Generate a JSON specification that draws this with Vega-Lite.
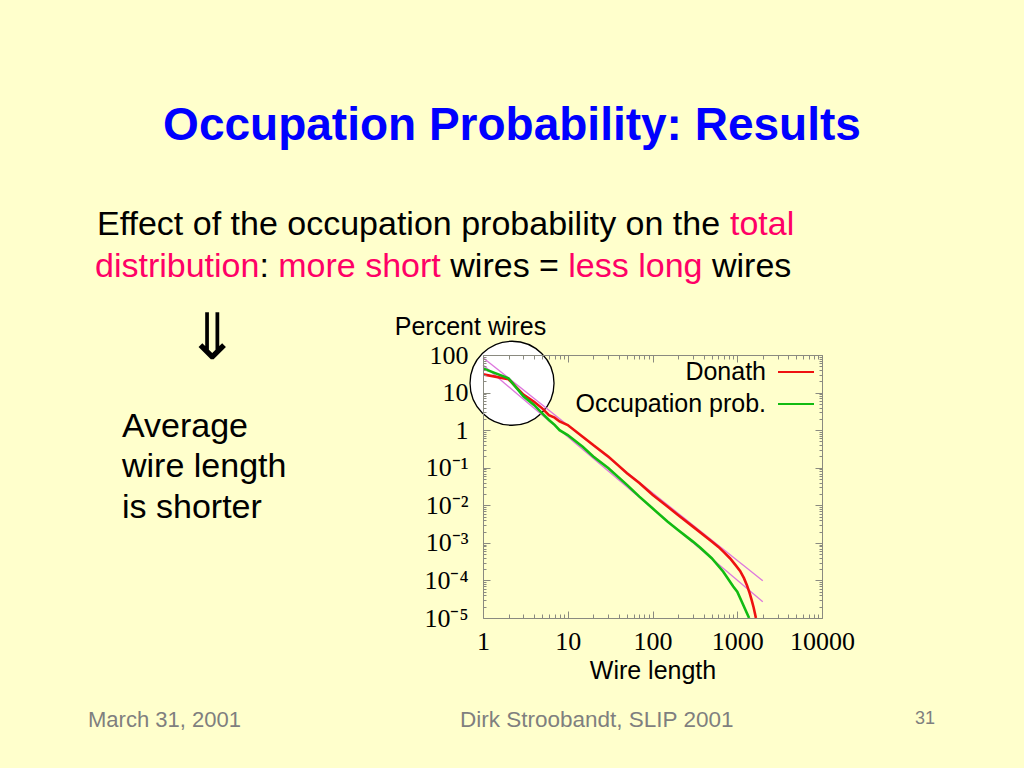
{
  "$schema": "https://vega.github.io/schema/vega-lite/v6.json",
  "width": 339,
  "height": 263,
  "autosize": "none",
  "padding": {"left": 483, "top": 355, "right": 202, "bottom": 150},
  "background": "#ffffcc",
  "config": {"view": {"stroke": null}, "font": "Liberation Sans"},
  "datasets": {
    "curves": [
      {"model": "Donath", "length": 1, "percent": 30.6},
      {"model": "Donath", "length": 2, "percent": 22.6},
      {"model": "Donath", "length": 3, "percent": 8.8},
      {"model": "Donath", "length": 4, "percent": 5.7},
      {"model": "Donath", "length": 5, "percent": 3.8},
      {"model": "Donath", "length": 6, "percent": 2.5},
      {"model": "Donath", "length": 7, "percent": 2.15},
      {"model": "Donath", "length": 8, "percent": 1.7},
      {"model": "Donath", "length": 10, "percent": 1.37},
      {"model": "Donath", "length": 15, "percent": 0.67},
      {"model": "Donath", "length": 20, "percent": 0.4},
      {"model": "Donath", "length": 30, "percent": 0.2},
      {"model": "Donath", "length": 50, "percent": 0.071},
      {"model": "Donath", "length": 70, "percent": 0.039},
      {"model": "Donath", "length": 100, "percent": 0.019},
      {"model": "Donath", "length": 150, "percent": 0.0093},
      {"model": "Donath", "length": 200, "percent": 0.0055},
      {"model": "Donath", "length": 300, "percent": 0.0027},
      {"model": "Donath", "length": 500, "percent": 0.00108},
      {"model": "Donath", "length": 600, "percent": 0.00078},
      {"model": "Donath", "length": 700, "percent": 0.00056},
      {"model": "Donath", "length": 820, "percent": 0.00039},
      {"model": "Donath", "length": 950, "percent": 0.00026},
      {"model": "Donath", "length": 1080, "percent": 0.00018},
      {"model": "Donath", "length": 1200, "percent": 0.000115},
      {"model": "Donath", "length": 1300, "percent": 0.000075},
      {"model": "Donath", "length": 1400, "percent": 0.000046},
      {"model": "Donath", "length": 1480, "percent": 0.00003},
      {"model": "Donath", "length": 1560, "percent": 0.000019},
      {"model": "Donath", "length": 1620, "percent": 0.000013},
      {"model": "Donath", "length": 1660, "percent": 0.00001},
      {"model": "Occupation prob.", "length": 1, "percent": 44},
      {"model": "Occupation prob.", "length": 2, "percent": 24},
      {"model": "Occupation prob.", "length": 3, "percent": 8.0},
      {"model": "Occupation prob.", "length": 4, "percent": 4.7},
      {"model": "Occupation prob.", "length": 5, "percent": 2.8},
      {"model": "Occupation prob.", "length": 6, "percent": 1.86},
      {"model": "Occupation prob.", "length": 7, "percent": 1.38},
      {"model": "Occupation prob.", "length": 8, "percent": 1.0},
      {"model": "Occupation prob.", "length": 10, "percent": 0.74},
      {"model": "Occupation prob.", "length": 15, "percent": 0.36},
      {"model": "Occupation prob.", "length": 20, "percent": 0.2},
      {"model": "Occupation prob.", "length": 30, "percent": 0.098},
      {"model": "Occupation prob.", "length": 50, "percent": 0.035},
      {"model": "Occupation prob.", "length": 70, "percent": 0.017},
      {"model": "Occupation prob.", "length": 100, "percent": 0.0083},
      {"model": "Occupation prob.", "length": 150, "percent": 0.0037},
      {"model": "Occupation prob.", "length": 200, "percent": 0.0022},
      {"model": "Occupation prob.", "length": 300, "percent": 0.00108},
      {"model": "Occupation prob.", "length": 364, "percent": 0.00075},
      {"model": "Occupation prob.", "length": 500, "percent": 0.00039},
      {"model": "Occupation prob.", "length": 684, "percent": 0.00017},
      {"model": "Occupation prob.", "length": 897, "percent": 0.000069},
      {"model": "Occupation prob.", "length": 1000, "percent": 0.00005},
      {"model": "Occupation prob.", "length": 1125, "percent": 0.000028},
      {"model": "Occupation prob.", "length": 1290, "percent": 0.000014},
      {"model": "Occupation prob.", "length": 1380, "percent": 0.00001}
    ],
    "fits": [
      {"fit": "Donath fit", "length": 1, "percent": 85},
      {"fit": "Donath fit", "length": 2000, "percent": 0.000098},
      {"fit": "Occupation fit", "length": 1, "percent": 54},
      {"fit": "Occupation fit", "length": 2000, "percent": 0.000027}
    ],
    "marker": [{"length": 2.2, "percent": 17.7}]
  },
  "layer": [
    {
      "data": {"name": "marker"},
      "mark": {"type": "point", "shape": "circle", "filled": true, "fill": "white", "stroke": "black", "strokeWidth": 1.3, "size": 7056, "opacity": 1},
      "encoding": {
        "x": {"field": "length", "type": "quantitative", "axis": null},
        "y": {"field": "percent", "type": "quantitative", "axis": null}
      }
    },
    {
      "data": {"name": "fits"},
      "mark": {"type": "line", "color": "#dd77dd", "strokeWidth": 1.3},
      "encoding": {
        "x": {"field": "length", "type": "quantitative",
          "axis": {"orient": "top", "values": [1,2,3,4,5,6,7,8,9,10,20,30,40,50,60,70,80,90,100,200,300,400,500,600,700,800,900,1000,2000,3000,4000,5000,6000,7000,8000,9000,10000],
            "labels": false, "title": null, "grid": false, "domain": true, "domainColor": "#8a8a80", "tickColor": "#8a8a80",
            "tickSize": {"condition": {"test": "abs(log(datum.value)/LN10 - round(log(datum.value)/LN10)) < 0.001", "value": -7}, "value": -4}, "zindex": 1}},
        "y": {"field": "percent", "type": "quantitative",
          "axis": {"orient": "right", "values": [0.00001,0.00002,0.00003,0.00004,0.00005,0.00006,0.00007,0.00008,0.00009,0.0001,0.0002,0.0003,0.0004,0.0005,0.0006,0.0007,0.0008,0.0009,0.001,0.002,0.003,0.004,0.005,0.006,0.007,0.008,0.009,0.01,0.02,0.03,0.04,0.05,0.06,0.07,0.08,0.09,0.1,0.2,0.3,0.4,0.5,0.6,0.7,0.8,0.9,1,2,3,4,5,6,7,8,9,10,20,30,40,50,60,70,80,90,100],
            "labels": false, "title": null, "grid": false, "domain": true, "domainColor": "#8a8a80", "tickColor": "#8a8a80",
            "tickSize": {"condition": {"test": "abs(log(datum.value)/LN10 - round(log(datum.value)/LN10)) < 0.001", "value": -7}, "value": -3}, "zindex": 1}},
        "detail": {"field": "fit", "type": "nominal"}
      }
    },
    {
      "data": {"name": "curves"},
      "mark": {"type": "line", "strokeWidth": 2.6, "clip": true},
      "encoding": {
        "x": {"field": "length", "type": "quantitative", "scale": {"type": "log", "domain": [1, 10000]},
          "axis": {"orient": "bottom", "values": [1,2,3,4,5,6,7,8,9,10,20,30,40,50,60,70,80,90,100,200,300,400,500,600,700,800,900,1000,2000,3000,4000,5000,6000,7000,8000,9000,10000],
            "labelExpr": "abs(log(datum.value)/LN10 - round(log(datum.value)/LN10)) > 0.001 ? '' : format(datum.value, 'd')",
            "labelFont": "Liberation Serif", "labelFontSize": 26, "labelColor": "black", "labelPadding": 17, "labelFlush": false, "labelOverlap": false,
            "grid": false, "domain": true, "domainColor": "#8a8a80", "tickColor": "#8a8a80",
            "tickSize": {"condition": {"test": "abs(log(datum.value)/LN10 - round(log(datum.value)/LN10)) < 0.001", "value": -7}, "value": -4},
            "title": "Wire length", "titleFont": "Liberation Sans", "titleFontSize": 25, "titleFontWeight": "normal", "titleColor": "black", "titleY": 60, "titleBaseline": "alphabetic", "zindex": 1}},
        "y": {"field": "percent", "type": "quantitative", "scale": {"type": "log", "domain": [0.00001, 100]},
          "axis": {"orient": "left", "values": [0.00001,0.00002,0.00003,0.00004,0.00005,0.00006,0.00007,0.00008,0.00009,0.0001,0.0002,0.0003,0.0004,0.0005,0.0006,0.0007,0.0008,0.0009,0.001,0.002,0.003,0.004,0.005,0.006,0.007,0.008,0.009,0.01,0.02,0.03,0.04,0.05,0.06,0.07,0.08,0.09,0.1,0.2,0.3,0.4,0.5,0.6,0.7,0.8,0.9,1,2,3,4,5,6,7,8,9,10,20,30,40,50,60,70,80,90,100],
            "labelExpr": "abs(log(datum.value)/LN10 - round(log(datum.value)/LN10)) > 0.001 ? '' : (datum.value >= 1 ? format(datum.value, 'd') : '10' + ['⁻¹','⁻²','⁻³','⁻⁴','⁻⁵'][-round(log(datum.value)/LN10) - 1])",
            "labelFont": "Liberation Serif", "labelFontSize": 26, "labelColor": "black", "labelPadding": 22, "labelFlush": false, "labelOverlap": false,
            "grid": false, "domain": true, "domainColor": "#8a8a80", "tickColor": "#8a8a80",
            "tickSize": {"condition": {"test": "abs(log(datum.value)/LN10 - round(log(datum.value)/LN10)) < 0.001", "value": -7}, "value": -3},
            "title": "Percent wires", "titleFont": "Liberation Sans", "titleFontSize": 25, "titleFontWeight": "normal", "titleColor": "black",
            "titleAngle": 0, "titleX": -13, "titleY": -21, "titleAlign": "center", "titleBaseline": "alphabetic", "zindex": 1}},
        "color": {"field": "model", "type": "nominal",
          "scale": {"domain": ["Donath", "Occupation prob."], "range": ["#ee1111", "#11bb11"]},
          "legend": {"orient": "none", "legendX": 94, "legendY": -2, "title": null, "symbolType": "stroke", "symbolSize": 1296, "symbolStrokeWidth": 2,
            "labelFont": "Liberation Sans", "labelFontSize": 25, "labelColor": "black", "labelAlign": "right", "labelOffset": -49, "symbolOffset": 200,
            "labelLimit": 400, "padding": 0, "rowPadding": -10, "direction": "vertical", "zindex": 1}}
      }
    },
    {"data": {"values": [{}]}, "mark": {"type": "text", "text": "Occupation Probability: Results", "x": 29, "y": -215, "align": "center", "baseline": "alphabetic", "font": "Liberation Sans", "fontSize": 46, "fontWeight": "bold", "color": "#0000ff"}},
    {"data": {"values": [{}]}, "mark": {"type": "text", "text": "Effect of the occupation probability on the", "x": -386, "y": -120, "align": "left", "baseline": "alphabetic", "font": "Liberation Sans", "fontSize": 34, "color": "black"}},
    {"data": {"values": [{}]}, "mark": {"type": "text", "text": "total", "x": 247, "y": -120, "align": "left", "baseline": "alphabetic", "font": "Liberation Sans", "fontSize": 34, "color": "#ff0066"}},
    {"data": {"values": [{}]}, "mark": {"type": "text", "text": "distribution", "x": -388, "y": -78, "align": "left", "baseline": "alphabetic", "font": "Liberation Sans", "fontSize": 34, "color": "#ff0066"}},
    {"data": {"values": [{}]}, "mark": {"type": "text", "text": ":", "x": -223.6, "y": -78, "align": "left", "baseline": "alphabetic", "font": "Liberation Sans", "fontSize": 34, "color": "black"}},
    {"data": {"values": [{}]}, "mark": {"type": "text", "text": "more short", "x": -204.7, "y": -78, "align": "left", "baseline": "alphabetic", "font": "Liberation Sans", "fontSize": 34, "color": "#ff0066"}},
    {"data": {"values": [{}]}, "mark": {"type": "text", "text": "wires =", "x": -32.7, "y": -78, "align": "left", "baseline": "alphabetic", "font": "Liberation Sans", "fontSize": 34, "color": "black"}},
    {"data": {"values": [{}]}, "mark": {"type": "text", "text": "less long", "x": 85.3, "y": -78, "align": "left", "baseline": "alphabetic", "font": "Liberation Sans", "fontSize": 34, "color": "#ff0066"}},
    {"data": {"values": [{}]}, "mark": {"type": "text", "text": "wires", "x": 229, "y": -78, "align": "left", "baseline": "alphabetic", "font": "Liberation Sans", "fontSize": 34, "color": "black"}},
    {"data": {"values": [{}]}, "mark": {"type": "text", "text": "⇓", "x": -271, "y": -15, "align": "center", "baseline": "middle", "font": "DejaVu Sans", "fontSize": 64, "color": "black"}},
    {"data": {"values": [{}]}, "mark": {"type": "text", "text": "Average", "x": -361, "y": 82, "align": "left", "baseline": "alphabetic", "font": "Liberation Sans", "fontSize": 34, "color": "black"}},
    {"data": {"values": [{}]}, "mark": {"type": "text", "text": "wire length", "x": -361, "y": 122, "align": "left", "baseline": "alphabetic", "font": "Liberation Sans", "fontSize": 34, "color": "black"}},
    {"data": {"values": [{}]}, "mark": {"type": "text", "text": "is shorter", "x": -361, "y": 163, "align": "left", "baseline": "alphabetic", "font": "Liberation Sans", "fontSize": 34, "color": "black"}},
    {"data": {"values": [{}]}, "mark": {"type": "text", "text": "March 31, 2001", "x": -395, "y": 372, "align": "left", "baseline": "alphabetic", "font": "Liberation Sans", "fontSize": 22, "color": "#7f7f7f"}},
    {"data": {"values": [{}]}, "mark": {"type": "text", "text": "Dirk Stroobandt, SLIP 2001", "x": -23, "y": 372, "align": "left", "baseline": "alphabetic", "font": "Liberation Sans", "fontSize": 22.5, "color": "#7f7f7f"}},
    {"data": {"values": [{}]}, "mark": {"type": "text", "text": "31", "x": 432, "y": 369, "align": "left", "baseline": "alphabetic", "font": "Liberation Sans", "fontSize": 18, "color": "#7f7f7f"}}
  ],
  "resolve": {"axis": {"x": "independent", "y": "independent"}}
}
